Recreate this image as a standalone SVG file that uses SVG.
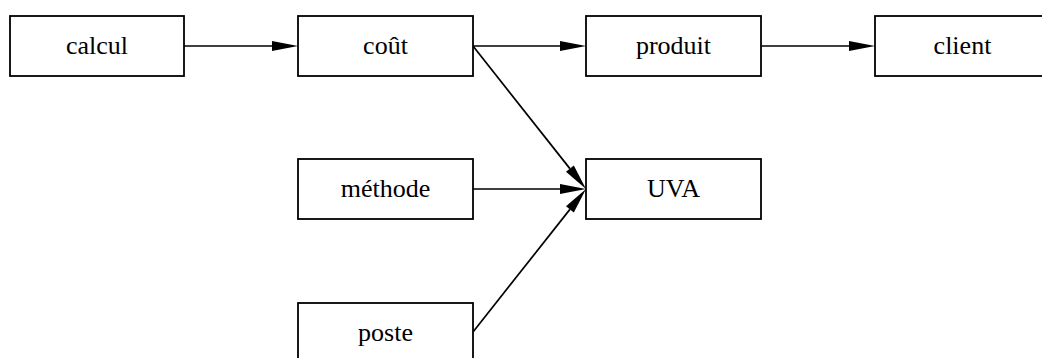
<svg xmlns="http://www.w3.org/2000/svg" width="1042" height="358" viewBox="0 0 1042 358">
<style>
.node rect{fill:#fff;stroke:#000;stroke-width:1.8}
.node text{font-family:'Liberation Serif','Times New Roman',serif;font-size:26px;fill:#000;text-anchor:middle}
.edges line{stroke:#000;stroke-width:1.7;fill:none}
</style>
<defs>
<marker id="arr" markerUnits="userSpaceOnUse" markerWidth="27" markerHeight="11" refX="0" refY="5" orient="auto" overflow="visible">
<path d="M0,0 L26,5 L0,10 z" fill="#000"/>
</marker>
</defs>
<rect width="1042" height="358" fill="#fff"/>
<g class="edges">
<line x1="184" y1="46" x2="272" y2="46" marker-end="url(#arr)"/>
<line x1="473" y1="46" x2="560" y2="46" marker-end="url(#arr)"/>
<line x1="761" y1="46" x2="849" y2="46" marker-end="url(#arr)"/>
<line x1="473" y1="46" x2="569.9" y2="168.6" marker-end="url(#arr)"/>
<line x1="473" y1="189" x2="560" y2="189" marker-end="url(#arr)"/>
<line x1="473" y1="332" x2="569.9" y2="209.4" marker-end="url(#arr)"/>
</g>
<g id="calcul" class="node"><rect x="10" y="16" width="174" height="60"/><text x="97" y="54" font-family="Liberation Serif, serif">calcul</text></g>
<g id="cout" class="node"><rect x="298" y="16" width="175" height="60"/><text x="385.5" y="54" font-family="Liberation Serif, serif">coût</text></g>
<g id="produit" class="node"><rect x="586" y="16" width="175" height="60"/><text x="673.5" y="54" font-family="Liberation Serif, serif">produit</text></g>
<g id="client" class="node"><rect x="875" y="16" width="175" height="60"/><text x="962.5" y="54" font-family="Liberation Serif, serif">client</text></g>
<g id="methode" class="node"><rect x="298" y="159" width="175" height="60"/><text x="385.5" y="197" font-family="Liberation Serif, serif">méthode</text></g>
<g id="UVA" class="node"><rect x="586" y="159" width="175" height="60"/><text x="673.5" y="197" font-family="Liberation Serif, serif">UVA</text></g>
<g id="poste" class="node"><rect x="298" y="303" width="175" height="60"/><text x="385.5" y="341" font-family="Liberation Serif, serif">poste</text></g>
</svg>
